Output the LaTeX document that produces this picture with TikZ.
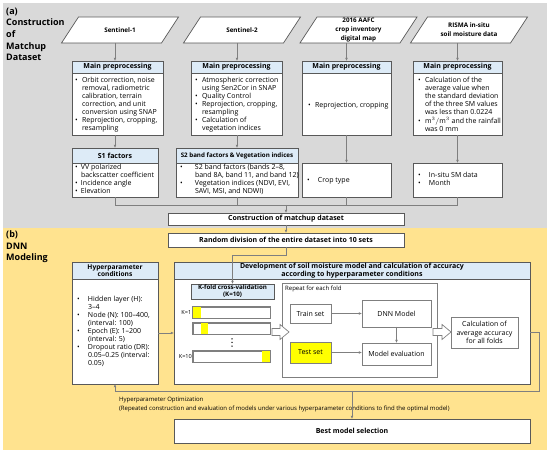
\documentclass[tikz,border=0pt]{standalone}
\usepackage{fontspec}
\setmainfont{Open Sans}
\usetikzlibrary{arrows.meta,calc}
\definecolor{bgA}{HTML}{D9D9D9}
\definecolor{bgB}{HTML}{FFE38F}
\definecolor{hdrc}{HTML}{DDEBF7}
\definecolor{bordc}{HTML}{595959}
\definecolor{linec}{HTML}{7F7F7F}
\definecolor{ylw}{HTML}{FFFF00}
\newcommand{\bl}[2]{{\setlength{\tabcolsep}{0pt}\begin{tabular}[t]{@{}p{#1}@{}l@{}}#2\end{tabular}}}
\newcommand{\bu}{\textbullet}
\newcommand{\bodyf}{\fontsize{7}{8}\selectfont}
\newcommand{\hdrf}{\bfseries\fontsize{7}{7.5}\selectfont}
\newcommand{\secf}{\bfseries\fontsize{9}{11.7}\selectfont}
\newcommand{\inpf}{\bfseries\fontsize{6.3}{9}\selectfont}
\newcommand{\smf}{\fontsize{6}{9}\selectfont}
\newcommand{\inpnode}[3]{%
  \draw[box] ($(#2)+(-58.5,13)$) -- ($(#2)+(-41.5,-13)$) -- ($(#2)+(58.5,-13)$) -- ($(#2)+(41.5,13)$) -- cycle;
  \node[inp] (#1) at (#2) {#3};}
\newcommand{\hollowarr}[3]{%
  \draw[box, draw=linec] (#1,#3-3.5) -- (#2-9,#3-3.5) -- (#2-9,#3-7.5) -- (#2,#3) -- (#2-9,#3+7.5) -- (#2-9,#3+3.5) -- (#1,#3+3.5) -- cycle;}
\begin{document}
\begin{tikzpicture}[x=1pt,y=-1pt,
  box/.style={draw=bordc, fill=white, line width=0.7pt, inner sep=0pt, outer sep=0pt},
  hdr/.style={box, fill=hdrc, font=\hdrf, align=center},
  inp/.style={inner sep=0pt, outer sep=0pt, minimum width=100, minimum height=26, align=center, font=\inpf},
  conn/.style={draw=linec, line width=0.7pt},
  arr/.style={conn, -{Latex[length=3.2pt,width=2.8pt]}},
  txt/.style={inner sep=0pt, outer sep=0pt, font=\bodyf, anchor=base west},
  bar/.style={draw=linec, fill=white, line width=0.6pt, inner sep=0pt, minimum width=77, minimum height=11},
]
\useasboundingbox (0,0) rectangle (550,454);
\fill[bgA] (3,3) rectangle (547,228);
\fill[bgB] (3,228) rectangle (547,450);

\node[anchor=north west, align=left, inner sep=0pt, font=\secf] (la) at (6,7.5) {(a)\\Construction\\of\\Matchup\\Dataset};
\node[anchor=north west, align=left, inner sep=0pt, font=\secf] (lb) at (6,230.5) {(b)\\DNN\\Modeling};

% inputs
\inpnode{s1}{120,30}{Sentinel-1}
\inpnode{s2}{242,30}{Sentinel-2}
\inpnode{s3}{358.5,30}{2016 AAFC\\crop inventory\\digital map}
\inpnode{s4}{469,30}{RISMA in-situ\\soil moisture data}

% main preprocessing
\node[box, minimum width=91, minimum height=74] (p1) at (117.5,98) {};
\node[hdr, minimum width=91, minimum height=12] (p1h) at (117.5,67) {Main preprocessing};
\node[box, minimum width=91, minimum height=74] (p2) at (236.5,98) {};
\node[hdr, minimum width=91, minimum height=12] (p2h) at (236.5,67) {Main preprocessing};
\node[box, minimum width=89, minimum height=74] (p3) at (346.5,98) {};
\node[hdr, minimum width=89, minimum height=12] (p3h) at (346.5,67) {Main preprocessing};
\node[box, minimum width=89, minimum height=74] (p4) at (457.5,98) {};
\node[hdr, minimum width=89, minimum height=12] (p4h) at (457.5,67) {Main preprocessing};

\node[txt] (p1t) at (75,82.5) {\bl{7pt}{\bu & Orbit correction, noise\\ & removal, radiometric\\ & calibration, terrain\\ & correction, and unit\\ & conversion using SNAP\\ \bu & Reprojection, cropping,\\ & resampling}};
\node[txt] (p2t) at (195,82.5) {\bl{7pt}{\bu & Atmospheric correction\\ & using Sen2Cor in SNAP\\ \bu & Quality Control\\ \bu & Reprojection, cropping,\\ & resampling\\ \bu & Calculation of\\ & vegetation indices}};
\node[txt] (p3t) at (308,108) {\bl{7pt}{\bu & Reprojection, cropping}};
\node[txt] (p4t) at (418,82.5) {\bl{7pt}{\bu & Calculation of the\\ & average value when\\ & the standard deviation\\ & of the three SM values\\ & was less than 0.0224\\ \bu & $\mathrm{m}^3/\mathrm{m}^3$ and the rainfall\\ & was 0 mm}};

% factor boxes
\node[box, minimum width=86, minimum height=49] (f1) at (115,172.5) {};
\node[hdr, minimum width=86, minimum height=15] (f1h) at (115,155.5) {S1 factors};
\node[box, minimum width=122, minimum height=49] (f2) at (237,172.5) {};
\node[hdr, minimum width=122, minimum height=15, font=\bfseries\fontsize{6.2}{7}\selectfont] (f2h) at (237,155.5) {S2 band factors \& Vegetation indices};
\node[box, minimum width=89, minimum height=34] (f3) at (346.5,180) {};
\node[box, minimum width=89, minimum height=34] (f4) at (457.5,180) {};

\node[txt] (f1t) at (75,169.5) {\bl{6pt}{\bu & VV polarized\\ & backscatter coefficient\\ \bu & Incidence angle\\ \bu & Elevation}};
\node[txt] (f2t) at (180,169.5) {\bl{15pt}{\bu & S2 band factors (bands 2–8,\\ & band 8A, band 11, and band 12)\\ \bu & Vegetation indices (NDVI, EVI,\\ & SAVI, MSI, and NDWI)}};
\node[txt] (f3t) at (307,183) {\bl{11pt}{\bu & Crop type}};
\node[txt] (f4t) at (418,178) {\bl{11pt}{\bu & In-situ SM data\\ \bu & Month}};

% arrows section a
\draw[arr] (s1.south -| f1.north) -- (p1.north -| f1.north);
\draw[arr] (s2.south -| f2.north) -- (p2.north -| f2.north);
\draw[arr] (s3.south -| p3.north) -- (p3.north);
\draw[arr] (s4.south -| p4.north) -- (p4.north);
\draw[arr] (p1.south -| f1.north) -- (f1.north);
\draw[arr] (p2.south -| f2.north) -- (f2.north);
\draw[arr] (p3.south) -- (f3.north);
\draw[arr] (p4.south) -- (f4.north);

% construction
\node[box, minimum width=236, minimum height=12, font=\hdrf] (cons) at (286,219) {Construction of matchup dataset};
\coordinate (jn) at (286,205);
\draw[conn] (f1.south) |- (jn -| f4.south) -- (f4.south);
\draw[conn] (f2.south) -- (f2.south |- jn);
\draw[conn] (f3.south) -- (f3.south |- jn);
\draw[arr] (jn) -- (cons.north);

% section b
\node[box, minimum width=236, minimum height=14, font=\hdrf] (rand) at (286,240) {Random division of the entire dataset into 10 sets};
\draw[arr] (cons.south) -- (rand.north);

\node[box, minimum width=86, minimum height=122] (hy) at (115,323) {};
\node[hdr, minimum width=86, minimum height=17, font=\bfseries\fontsize{6.6}{6.8}\selectfont] (hyh) at (115,270.5) {Hyperparameter\\conditions};
\node[txt] (hyt) at (77,301.5) {\bl{11pt}{\bu & Hidden layer (H):\\ & 3–4\\ \bu & Node (N): 100–400,\\ & (interval: 100)\\ \bu & Epoch (E): 1–200\\ & (interval: 5)\\ \bu & Dropout ratio (DR):\\ & 0.05–0.25 (interval:\\ & 0.05)}};

\node[box, minimum width=356, minimum height=122] (dv) at (352,323) {};
\node[hdr, minimum width=356, minimum height=17] (dvh) at (352,270.5) {Development of soil moisture model and calculation of accuracy\\according to hyperparameter conditions};

\node[hdr, minimum width=83, minimum height=15, font=\bfseries\fontsize{6.2}{7}\selectfont] (kf) at (232.5,291.5) {K-fold cross-validation\\(K=10)};
\draw[arr] (rand.south) -- ++(0,8) -| (kf.north);

\node[bar] (k1) at (231.5,312.5) {};
\fill[ylw] (k1.north west) rectangle ($(k1.south west)+(8,0)$);
\draw[linec, line width=0.6pt] (k1.north west) rectangle (k1.south east);
\node[bar] (k2) at (231.5,328.5) {};
\fill[ylw] ($(k2.north west)+(8,0)$) rectangle ($(k2.south west)+(15,0)$);
\draw[linec, line width=0.6pt] (k2.north west) rectangle (k2.south east);
\node[bar] (k10) at (231.5,356.5) {};
\fill[ylw] ($(k10.north east)+(-8,0)$) rectangle (k10.south east);
\draw[linec, line width=0.6pt] (k10.north west) rectangle (k10.south east);
\node[anchor=east, inner sep=1.2pt, font=\fontsize{5.6}{6}\selectfont] (k1l) at (k1.west) {K=1};
\node[anchor=east, inner sep=0.6pt, font=\fontsize{5.6}{6}\selectfont] (k10l) at (k10.west) {K=10};
\fill[black] (232,338.8) circle (0.75) (232,342.5) circle (0.75) (232,346.2) circle (0.75);

\node[box, draw=linec, minimum width=155, minimum height=94] (rp) at (359.5,330) {};
\node[anchor=north west, inner sep=0pt, font=\smf] (rpl) at (285,286) {Repeat for each fold};
\node[box, draw=linec, minimum width=41, minimum height=19, font=\bodyf] (tr) at (310.5,313.5) {Train set};
\node[box, draw=linec, minimum width=69, minimum height=27, font=\bodyf] (dnn) at (396.5,313.5) {DNN Model};
\node[box, draw=linec, fill=ylw, minimum width=41, minimum height=21, font=\bodyf] (te) at (310.5,352.5) {Test set};
\node[box, draw=linec, minimum width=69, minimum height=22, font=\bodyf] (ev) at (396.5,354) {Model evaluation};
\draw[arr] (tr.east) -- (dnn.west);
\draw[arr] (dnn.south) -- (ev.north);
\draw[arr] (te.east) -- (te.east -| ev.west);

\node[box, draw=linec, minimum width=67, minimum height=31, align=center, font=\fontsize{7}{8.7}\selectfont] (calc) at (484.5,332.5) {Calculation of\\average accuracy\\for all folds};

\hollowarr{272}{289}{332}
\hollowarr{433}{451}{332}

\draw[arr] (hy.east |- 0,333) -- (dv.west |- 0,333);

\node[box, minimum width=356, minimum height=24, font=\hdrf] (best) at (352,431) {Best model selection};
\coordinate (lp) at (539,391);
\draw[arr] (dv.east |- 0,332) -| (lp) -| (hy.south);
\node[anchor=north west, align=left, inner sep=0pt, font=\smf] (hopt) at (119,397) {Hyperparameter Optimization\\(Repeated construction and evaluation of models under various hyperparameter conditions to find the optimal model)};
\draw[arr] (best.north |- lp) -- (best.north);
\end{tikzpicture}
\end{document}
